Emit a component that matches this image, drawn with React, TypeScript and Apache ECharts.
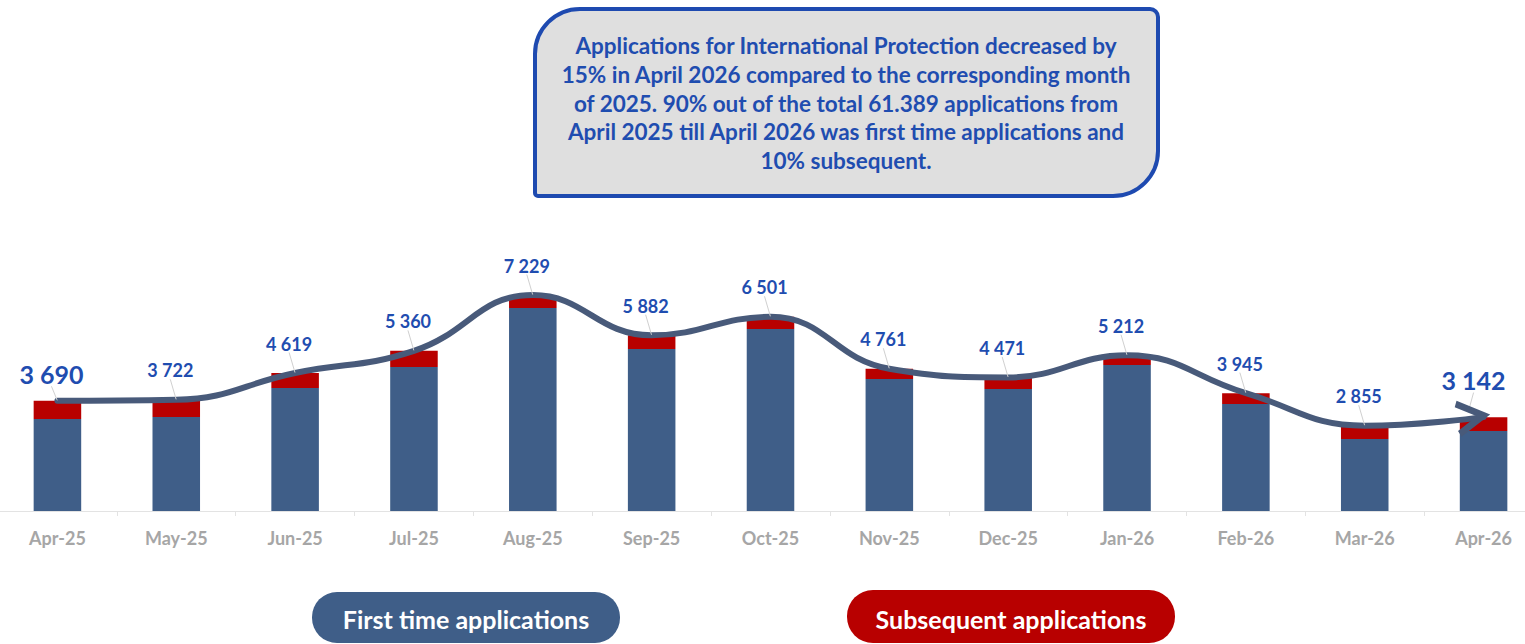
import React, { useEffect, useRef } from "react";
import * as echarts from "echarts";

const months = ["Apr-25", "May-25", "Jun-25", "Jul-25", "Aug-25", "Sep-25", "Oct-25", "Nov-25", "Dec-25", "Jan-26", "Feb-26", "Mar-26", "Apr-26"];
const firstTime = [3079, 3146, 4116, 4819, 6794, 5422, 6091, 4418, 4083, 4886, 3581, 2410, 2677];
const subsequent = [611, 576, 503, 541, 435, 460, 410, 343, 388, 326, 364, 445, 465];

const summaryText = [
  "Applications for International Protection decreased by",
  "15% in April 2026 compared to the corresponding month",
  "of 2025. 90% out of the total 61.389 applications from",
  "April 2025 till April 2026 was first time applications and",
  "10% subsequent.",
];

const BLUE = "#3F5E88";
const RED = "#B80000";
const LINE = "#485A7A";
const LABEL = "#1F4DB0";
const FONT = "Lato, 'Open Sans', sans-serif";

function fmt(v: number) {
  return String(v).replace(/\B(?=(\d{3})+(?!\d))/g, " ");
}

export default function App() {
  const ref = useRef<HTMLDivElement>(null);
  useEffect(() => {
    if (!ref.current) return;
    const chart = echarts.init(ref.current, undefined, { renderer: "svg" });
    const totals = firstTime.map((v, i) => v + subsequent[i]);
    const last = totals.length - 1;
    const lineData = totals.map((v, i) => {
      if (i === 0) {
        return { value: v, label: { fontSize: 25, distance: -2 } };
      }
      if (i === last) {
        return {
          value: v,
          symbol: "path://M0,0 L15,15 L0,30",
          symbolSize: [26, 30],
          symbolOffset: [-13, 0],
          symbolRotate: 8,
          itemStyle: { color: "rgba(0,0,0,0)", borderColor: LINE, borderWidth: 6.5 },
          label: { fontSize: 25, distance: -12 },
        };
      }
      return v;
    });
    chart.setOption({
      animation: false,
      grid: { left: -2, width: 1545, top: 272, bottom: 133, outerBoundsMode: "none", containLabel: false },
      xAxis: {
        type: "category",
        data: months,
        axisLine: { lineStyle: { color: "#E3E3E3", width: 1 } },
        axisTick: { show: true, alignWithLabel: false, length: 5, lineStyle: { color: "#E3E3E3" } },
        axisLabel: { color: "#A6A6A6", fontSize: 18, fontWeight: "bold", fontFamily: FONT, margin: 18 },
      },
      yAxis: { type: "value", min: 0, max: 8000, show: false, splitLine: { show: false } },
      series: [
        {
          type: "bar",
          stack: "a",
          data: firstTime,
          barWidth: "40%",
          itemStyle: { color: BLUE },
        },
        {
          type: "bar",
          stack: "a",
          data: subsequent,
          barWidth: "40%",
          itemStyle: { color: RED },
        },
        {
          type: "line",
          data: lineData,
          smooth: 0.45,
          symbol: "circle",
          symbolSize: 1,
          showSymbol: true,
          itemStyle: { color: "rgba(0,0,0,0)" },
          lineStyle: { color: LINE, width: 6, cap: "round" },
          z: 5,
          label: {
            show: true,
            position: "top",
            distance: 4,
            color: LABEL,
            fontSize: 18,
            fontWeight: "bold",
            fontFamily: FONT,
            formatter: (p: any) => fmt(p.value),
          },
          labelLayout: (p: any) => ({ dy: -16, dx: p.dataIndex === last ? 3 : -6 }),
          labelLine: { show: true, lineStyle: { color: "#D0D0D0", width: 1 } },
        },
      ],
      graphic: [
        {
          type: "rect",
          shape: { x: 535, y: 9, width: 623, height: 187, r: [45, 8, 45, 3] },
          style: { fill: "#DFDFDF", stroke: "#1E4AB0", lineWidth: 4 },
        },
        {
          type: "text",
          x: 846,
          y: 31,
          style: {
            text: summaryText.join("\n"),
            fill: LABEL,
            font: `bold 22.5px ${FONT}`,
            lineHeight: 28.8,
            align: "center",
            verticalAlign: "top",
          },
        },
        {
          type: "rect",
          shape: { x: 312, y: 592, width: 308, height: 51, r: 25 },
          style: { fill: BLUE },
        },
        {
          type: "text",
          x: 466,
          y: 619,
          style: {
            text: "First time applications",
            fill: "#FFFFFF",
            font: `bold 25px ${FONT}`,
            align: "center",
            verticalAlign: "middle",
          },
        },
        {
          type: "rect",
          shape: { x: 847, y: 590, width: 328, height: 53, r: 26 },
          style: { fill: RED },
        },
        {
          type: "text",
          x: 1011,
          y: 619,
          style: {
            text: "Subsequent applications",
            fill: "#FFFFFF",
            font: `bold 25px ${FONT}`,
            align: "center",
            verticalAlign: "middle",
          },
        },
      ],
    });
    return () => chart.dispose();
  }, []);
  return <div ref={ref} style={{ position: "absolute", left: 0, top: 0, width: 1525, height: 644 }} />;
}
